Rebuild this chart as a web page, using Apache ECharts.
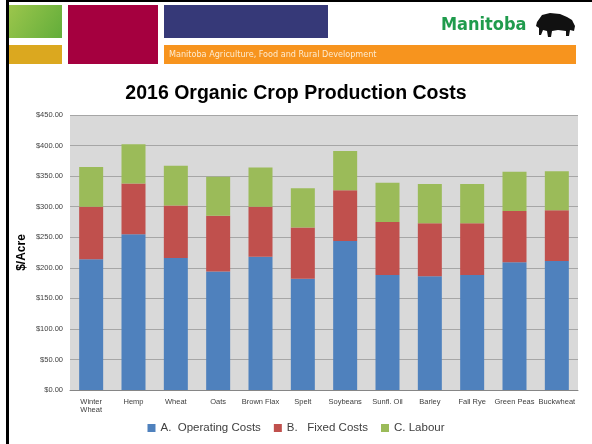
<!DOCTYPE html>
<html>
<head>
<meta charset="utf-8">
<script src="https://cdn.jsdelivr.net/npm/echarts@6/dist/echarts.min.js"></script>
<style>
    html, body {margin: 0; padding: 0; background: #fff;}
    #chart {width: 592px; height: 444px;}
</style>
</head>
<body>
<div id="chart"></div>
<script>
    var crops = ['Winter Wheat', 'Hemp', 'Wheat', 'Oats', 'Brown Flax', 'Spelt', 'Soybeans',
        'Sunfl. Oil', 'Barley', 'Fall Rye', 'Green Peas', 'Buckwheat'];
    var operating = [214, 255, 216, 194, 218, 182, 244, 188, 186, 188, 209, 211];
    var fixed = [86, 83, 86, 91, 82, 84, 83, 87, 87, 85, 84, 83];
    var labour = [65, 64, 65, 64, 64, 64, 64, 64, 64, 64, 64, 64];
    var yTicks = [0, 50, 100, 150, 200, 250, 300, 350, 400, 450];

    var font = 'Liberation Sans';
    var myChart = echarts.init(document.getElementById('chart'));

    // header banner (slide template)
    var banner = [
        {type: 'rect', shape: {x: 6, y: 0, width: 586, height: 2}, style: {fill: '#000'}},
        {type: 'rect', shape: {x: 6, y: 0, width: 3, height: 444}, style: {fill: '#000'}},
        {type: 'rect', shape: {x: 9, y: 5, width: 53, height: 33},
            style: {fill: new echarts.graphic.LinearGradient(0, 0, 1, 1, [
                {offset: 0, color: '#9cc64c'}, {offset: 1, color: '#62ad3a'}])}},
        {type: 'rect', shape: {x: 9, y: 45, width: 53, height: 19}, style: {fill: '#dba81f'}},
        {type: 'rect', shape: {x: 68, y: 5, width: 90, height: 59}, style: {fill: '#a5003f'}},
        {type: 'rect', shape: {x: 164, y: 5, width: 164, height: 33}, style: {fill: '#363978'}},
        {type: 'rect', shape: {x: 164, y: 45, width: 412, height: 19}, style: {fill: '#f7941e'}},
        {type: 'text', x: 169, y: 55, style: {text: 'Manitoba Agriculture, Food and Rural Development',
            fill: '#fdebd0', font: '9px "DejaVu Sans Condensed"', textVerticalAlign: 'middle'}},
        {type: 'text', x: 441, y: 25, style: {text: 'Manitoba', fill: '#1f9b4c',
            font: 'bold 18px "DejaVu Sans Condensed"', textVerticalAlign: 'middle'}},
        {type: 'polygon', shape: {points: [[537, 22], [542, 15], [550, 13], [560, 14], [567, 17], [572, 20],
            [575, 26], [574, 31], [570, 30], [569, 36], [566, 36], [566, 31], [558, 30], [552, 31],
            [551, 37], [548, 37], [547, 31], [543, 30], [541, 35], [539, 35], [539, 28], [536, 26]]},
            style: {fill: '#111'}}
    ];

    myChart.setOption({
        animation: false,
        title: {
            text: '2016 Organic Crop Production Costs',
            left: 'center',
            top: 79,
            textStyle: {fontFamily: font, fontWeight: 'bold', fontSize: 19.5, color: '#000'}
        },
        graphic: banner,
        legend: {
            bottom: 5,
            left: 'center',
            icon: 'rect',
            itemWidth: 8,
            itemHeight: 8,
            itemGap: 13,
            textStyle: {fontFamily: font, fontSize: 11.5, color: '#404040'},
            data: ['A.  Operating Costs', 'B.   Fixed Costs', 'C. Labour']
        },
        grid: {left: 70, right: 14, top: 115, bottom: 54, backgroundColor: '#d9d9d9', show: true, borderWidth: 0},
        xAxis: {
            type: 'category',
            data: crops,
            axisLine: {lineStyle: {color: '#868686'}},
            axisTick: {show: false},
            axisLabel: {
                interval: 0,
                fontFamily: font,
                fontSize: 7.5,
                color: '#404040',
                margin: 8,
                formatter: function (v) {
                    return v.length > 11 ? v.replace(' ', '\n') : v;
                }
            }
        },
        yAxis: {
            type: 'value',
            min: yTicks[0],
            max: yTicks[yTicks.length - 1],
            interval: 50,
            name: '$/Acre',
            nameLocation: 'middle',
            nameGap: 42,
            nameMoveOverlap: false,
            nameTextStyle: {fontFamily: font, fontWeight: 'bold', fontSize: 12, color: '#000'},
            axisLine: {show: false},
            axisTick: {show: false},
            splitLine: {lineStyle: {color: '#a6a6a6'}},
            axisLabel: {
                fontFamily: font,
                fontSize: 7.5,
                color: '#404040',
                margin: 7,
                formatter: function (v) { return '$' + v.toFixed(2); }
            }
        },
        series: [{
            name: 'A.  Operating Costs',
            type: 'bar',
            stack: 'cost',
            barWidth: 24,
            itemStyle: {color: '#4f81bd'},
            data: operating
        }, {
            name: 'B.   Fixed Costs',
            type: 'bar',
            stack: 'cost',
            itemStyle: {color: '#c0504d'},
            data: fixed
        }, {
            name: 'C. Labour',
            type: 'bar',
            stack: 'cost',
            itemStyle: {color: '#9bbb59'},
            data: labour
        }]
    });
</script>
</body>
</html>
